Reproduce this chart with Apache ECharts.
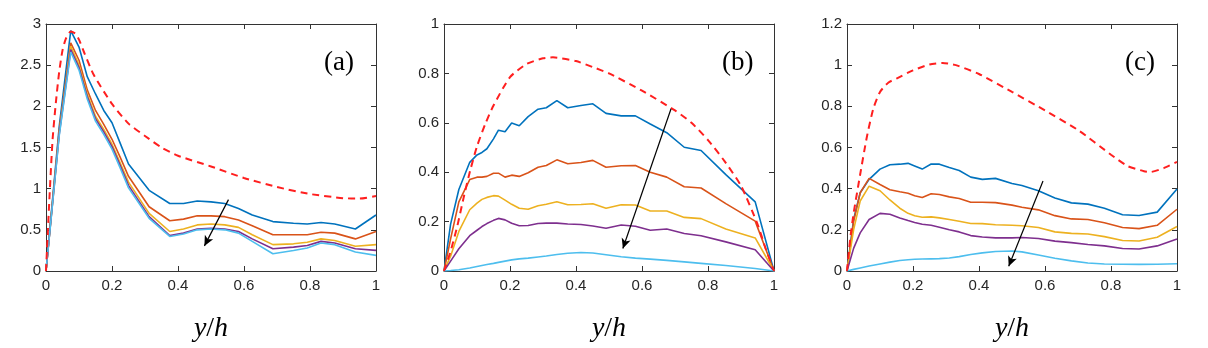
<!DOCTYPE html>
<html>
<head>
    <meta http-equiv="Content-Type" content="text/html; charset=utf-8" />
    <title>ECharts</title>
    <script src="https://cdn.jsdelivr.net/npm/echarts@6/dist/echarts.min.js"></script>
</head>
<body style="margin:0;background:#fff;">
    <div id="main" style="width: 1208px;height:348px;"></div>
    <script type="text/javascript">

    // panel (a)
    var aX = [0, 0.04, 0.075, 0.1, 0.125, 0.15, 0.175, 0.2, 0.225, 0.25, 0.3125, 0.375, 0.4167, 0.4583, 0.5, 0.5417, 0.5833, 0.625, 0.6875, 0.75, 0.7917, 0.8333, 0.875, 0.9375, 1];
    var aBlue = [0, 1.75, 2.92, 2.72, 2.36, 2.15, 1.95, 1.8, 1.55, 1.30, 0.98, 0.82, 0.82, 0.85, 0.84, 0.82, 0.76, 0.68, 0.60, 0.58, 0.57, 0.59, 0.57, 0.51, 0.68];
    var aOrange = [0, 1.7, 2.77, 2.56, 2.2, 1.95, 1.78, 1.6, 1.38, 1.15, 0.78, 0.61, 0.63, 0.67, 0.67, 0.66, 0.62, 0.55, 0.44, 0.44, 0.44, 0.47, 0.46, 0.39, 0.48];
    var aYellow = [0, 1.68, 2.73, 2.5, 2.15, 1.88, 1.72, 1.54, 1.31, 1.08, 0.7, 0.48, 0.51, 0.56, 0.57, 0.56, 0.53, 0.44, 0.32, 0.33, 0.35, 0.39, 0.37, 0.30, 0.32];
    var aPurple = [0, 1.66, 2.69, 2.47, 2.12, 1.85, 1.69, 1.51, 1.28, 1.04, 0.66, 0.43, 0.46, 0.51, 0.52, 0.51, 0.48, 0.39, 0.27, 0.29, 0.31, 0.36, 0.34, 0.27, 0.25];
    var aCyan = [0, 1.64, 2.66, 2.44, 2.09, 1.82, 1.66, 1.48, 1.25, 1.01, 0.64, 0.42, 0.45, 0.50, 0.51, 0.50, 0.46, 0.36, 0.21, 0.25, 0.28, 0.34, 0.32, 0.23, 0.19];
    var aRefX = [0, 0.01, 0.02, 0.03, 0.04, 0.05, 0.06, 0.075, 0.09, 0.1, 0.115, 0.145, 0.2, 0.25, 0.3, 0.35, 0.4, 0.5, 0.6, 0.7, 0.8, 0.9, 0.95, 1];
    var aRef = [0, 0.85, 1.6, 2.05, 2.42, 2.68, 2.82, 2.91, 2.88, 2.81, 2.66, 2.38, 2.03, 1.79, 1.64, 1.5, 1.4, 1.27, 1.13, 1.02, 0.935, 0.885, 0.88, 0.91];
    var aArrow = [[0.553, 0.867], [0.48, 0.305]];

    // panel (b)
    var bX = [0, 0.02, 0.045, 0.078, 0.1, 0.115, 0.13, 0.15, 0.165, 0.185, 0.205, 0.228, 0.255, 0.285, 0.31, 0.342, 0.375, 0.415, 0.451, 0.491, 0.537, 0.58, 0.625, 0.675, 0.728, 0.779, 0.854, 0.943, 1];
    var bBlue = [0, 0.19, 0.33, 0.44, 0.47, 0.48, 0.495, 0.535, 0.57, 0.564, 0.599, 0.588, 0.625, 0.655, 0.661, 0.69, 0.661, 0.67, 0.677, 0.638, 0.628, 0.628, 0.595, 0.56, 0.501, 0.488, 0.39, 0.28, 0];
    var bOrange = [0, 0.13, 0.28, 0.37, 0.38, 0.38, 0.383, 0.396, 0.396, 0.38, 0.388, 0.383, 0.398, 0.42, 0.427, 0.45, 0.434, 0.439, 0.448, 0.42, 0.426, 0.427, 0.40, 0.38, 0.341, 0.336, 0.273, 0.202, 0];
    var bYellow = [0, 0.06, 0.16, 0.248, 0.275, 0.29, 0.298, 0.305, 0.303, 0.287, 0.27, 0.254, 0.25, 0.264, 0.27, 0.28, 0.268, 0.269, 0.272, 0.254, 0.268, 0.267, 0.243, 0.243, 0.217, 0.212, 0.17, 0.134, 0];
    var bPurple = [0, 0.04, 0.09, 0.143, 0.165, 0.18, 0.192, 0.205, 0.213, 0.207, 0.193, 0.183, 0.184, 0.192, 0.194, 0.194, 0.19, 0.188, 0.182, 0.173, 0.186, 0.181, 0.165, 0.17, 0.152, 0.143, 0.118, 0.086, 0];
    var bCyan = [0, 0.002, 0.005, 0.012, 0.018, 0.022, 0.026, 0.031, 0.035, 0.04, 0.045, 0.049, 0.052, 0.057, 0.061, 0.067, 0.072, 0.075, 0.073, 0.066, 0.058, 0.052, 0.048, 0.043, 0.037, 0.031, 0.022, 0.01, 0];
    var bRefX = [0, 0.02, 0.04, 0.06, 0.08, 0.1, 0.125, 0.15, 0.2, 0.25, 0.3, 0.33, 0.4, 0.45, 0.5, 0.6, 0.7, 0.75, 0.8, 0.85, 0.9, 0.95, 0.975, 1];
    var bRef = [0, 0.08, 0.18, 0.3, 0.41, 0.505, 0.595, 0.67, 0.785, 0.838, 0.861, 0.865, 0.85, 0.826, 0.80, 0.73, 0.65, 0.60, 0.53, 0.445, 0.345, 0.19, 0.09, 0];
    var bArrow = [[0.688, 0.657], [0.542, 0.091]];

    // panel (c)
    var cX = [0, 0.02, 0.04, 0.067, 0.1, 0.13, 0.16, 0.185, 0.205, 0.228, 0.255, 0.28, 0.31, 0.34, 0.375, 0.41, 0.45, 0.5, 0.53, 0.58, 0.63, 0.68, 0.73, 0.78, 0.835, 0.885, 0.94, 1];
    var cBlue = [0, 0.25, 0.38, 0.445, 0.495, 0.516, 0.519, 0.523, 0.51, 0.495, 0.52, 0.519, 0.503, 0.488, 0.456, 0.445, 0.45, 0.425, 0.415, 0.39, 0.355, 0.331, 0.325, 0.305, 0.273, 0.27, 0.286, 0.398];
    var cOrange = [0, 0.24, 0.38, 0.45, 0.42, 0.395, 0.385, 0.378, 0.366, 0.357, 0.375, 0.372, 0.36, 0.352, 0.334, 0.334, 0.332, 0.32, 0.31, 0.297, 0.269, 0.253, 0.25, 0.234, 0.211, 0.206, 0.222, 0.30];
    var cYellow = [0, 0.2, 0.34, 0.412, 0.39, 0.345, 0.305, 0.28, 0.268, 0.261, 0.263, 0.258, 0.25, 0.242, 0.231, 0.23, 0.225, 0.222, 0.22, 0.211, 0.19, 0.183, 0.18, 0.167, 0.148, 0.146, 0.164, 0.216];
    var cPurple = [0, 0.11, 0.185, 0.25, 0.28, 0.276, 0.258, 0.245, 0.236, 0.227, 0.222, 0.213, 0.2, 0.19, 0.172, 0.165, 0.161, 0.161, 0.163, 0.158, 0.145, 0.138, 0.129, 0.122, 0.109, 0.107, 0.122, 0.156];
    var cCyan = [0, 0.008, 0.015, 0.024, 0.034, 0.043, 0.051, 0.055, 0.057, 0.058, 0.059, 0.06, 0.063, 0.07, 0.08, 0.088, 0.095, 0.097, 0.093, 0.078, 0.062, 0.049, 0.039, 0.034, 0.033, 0.032, 0.033, 0.035];
    var cRefX = [0, 0.01, 0.02, 0.04, 0.06, 0.08, 0.1, 0.125, 0.15, 0.2, 0.25, 0.29, 0.33, 0.4, 0.5, 0.6, 0.7, 0.8, 0.85, 0.9, 0.92, 0.96, 1];
    var cRef = [0, 0.16, 0.28, 0.47, 0.65, 0.79, 0.87, 0.915, 0.935, 0.975, 1.003, 1.011, 1.0, 0.957, 0.87, 0.78, 0.685, 0.565, 0.51, 0.485, 0.481, 0.5, 0.53];
    var cArrow = [[0.594, 0.437], [0.49, 0.023]];

    // axes
    var panelNames = ['(a)', '(b)', '(c)'];
    var yMax = [3, 1, 1.2];
    var yStep = [0.5, 0.2, 0.2];
    var xStep = 0.2;
    var lineColors = ['#0072BD', '#D95319', '#EDB120', '#7E2F8E', '#4DBEEE'];

    var panels = [
        {x: aX, lines: [aBlue, aOrange, aYellow, aPurple, aCyan], refX: aRefX, ref: aRef, arrow: aArrow},
        {x: bX, lines: [bBlue, bOrange, bYellow, bPurple, bCyan], refX: bRefX, ref: bRef, arrow: bArrow},
        {x: cX, lines: [cBlue, cOrange, cYellow, cPurple, cCyan], refX: cRefX, ref: cRef, arrow: cArrow}
    ];
    var gridLeft = [46, 444, 847];

    function pairs(xs, ys) {
        var out = [];
        for (var i = 0; i < xs.length; i++) out.push([xs[i], ys[i]]);
        return out;
    }
    function fmt(v) {
        return String(Math.round(v * 10) / 10);
    }

    var axisCol = '#333333';
    var labelStyle = {color: '#262626', fontSize: 15, fontFamily: 'Liberation Sans'};

    var grids = [], xAxes = [], yAxes = [], series = [], titles = [];
    for (var p = 0; p < 3; p++) {
        grids.push({left: gridLeft[p], top: 24, width: 330, height: 256});
        // bottom and top x axis
        xAxes.push({
            type: 'value', gridIndex: p, min: 0, max: 1, interval: xStep, position: 'bottom',
            axisLine: {show: true, onZero: false, lineStyle: {color: axisCol, width: 1}},
            axisTick: {show: true, inside: true, length: 5, lineStyle: {color: axisCol}},
            axisLabel: Object.assign({margin: 7, formatter: fmt}, labelStyle),
            splitLine: {show: false},
            name: '{i|y}{n|/}{i|h}', nameLocation: 'middle', nameGap: 44,
            nameTextStyle: {
                rich: {
                    i: {fontFamily: 'Liberation Serif', fontStyle: 'italic', fontSize: 28, color: '#000'},
                    n: {fontFamily: 'Liberation Serif', fontSize: 28, color: '#000'}
                }
            }
        });
        xAxes.push({
            type: 'value', gridIndex: p, min: 0, max: 1, interval: xStep, position: 'top',
            axisLine: {show: true, onZero: false, lineStyle: {color: axisCol, width: 1}},
            axisTick: {show: true, inside: true, length: 5, lineStyle: {color: axisCol}},
            axisLabel: {show: false},
            splitLine: {show: false}
        });
        // left and right y axis
        yAxes.push({
            type: 'value', gridIndex: p, min: 0, max: yMax[p], interval: yStep[p], position: 'left',
            axisLine: {show: true, onZero: false, lineStyle: {color: axisCol, width: 1}},
            axisTick: {show: true, inside: true, length: 5, lineStyle: {color: axisCol}},
            axisLabel: Object.assign({margin: 5, formatter: fmt}, labelStyle),
            splitLine: {show: false}
        });
        yAxes.push({
            type: 'value', gridIndex: p, min: 0, max: yMax[p], interval: yStep[p], position: 'right',
            axisLine: {show: true, onZero: false, lineStyle: {color: axisCol, width: 1}},
            axisTick: {show: true, inside: true, length: 5, lineStyle: {color: axisCol}},
            axisLabel: {show: false},
            splitLine: {show: false}
        });

        var pn = panels[p];
        for (var k = 0; k < 5; k++) {
            series.push({
                type: 'line', xAxisIndex: 2 * p, yAxisIndex: 2 * p,
                data: pairs(pn.x, pn.lines[k]),
                showSymbol: false, symbol: 'none',
                lineStyle: {color: lineColors[k], width: 1.6},
                z: 3
            });
        }
        // reference curve + arrow
        series.push({
            type: 'line', xAxisIndex: 2 * p, yAxisIndex: 2 * p,
            data: pairs(pn.refX, pn.ref),
            showSymbol: false, symbol: 'none', smooth: 0.2,
            lineStyle: {color: '#ff1f1f', width: 2, type: [7, 5]},
            z: 4,
            markLine: {
                silent: true, symbol: ['none', 'arrow'], symbolSize: [7, 10],
                label: {show: false},
                lineStyle: {color: '#000', width: 1.2, type: 'solid'},
                data: [[{coord: pn.arrow[0]}, {coord: pn.arrow[1]}]]
            }
        });
        titles.push({
            text: panelNames[p], left: gridLeft[p] + 273, top: 44,
            textStyle: {fontFamily: 'Liberation Serif', fontSize: 27, fontWeight: 'normal', color: '#000'}
        });
    }

    var myChart = echarts.init(document.getElementById('main'));
    var option = {
        backgroundColor: '#fff',
        animation: false,
        title: titles,
        grid: grids,
        xAxis: xAxes,
        yAxis: yAxes,
        series: series
    };
    myChart.setOption(option);
    </script>
</body>
</html>
